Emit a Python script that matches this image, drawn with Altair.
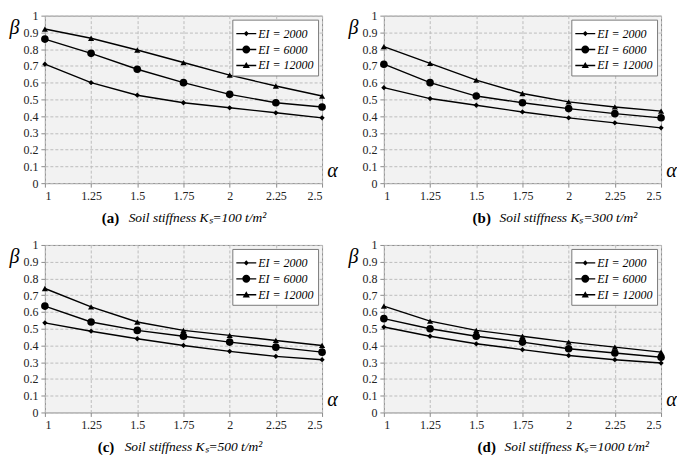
import altair as alt
import pandas as pd

# ---------------- data ----------------
alpha = [1, 1.25, 1.5, 1.75, 2, 2.25, 2.5]
series = ["EI = 2000", "EI = 6000", "EI = 12000"]
y_ticks = [0, 0.1, 0.2, 0.3, 0.4, 0.5, 0.6, 0.7, 0.8, 0.9, 1]

# (a) Ks = 100
a_2000 = [0.71, 0.60, 0.525, 0.48, 0.45, 0.42, 0.39]
a_6000 = [0.86, 0.775, 0.68, 0.60, 0.53, 0.48, 0.455]
a_12000 = [0.92, 0.865, 0.795, 0.72, 0.645, 0.58, 0.52]
# (b) Ks = 300
b_2000 = [0.57, 0.505, 0.465, 0.425, 0.39, 0.36, 0.33]
b_6000 = [0.71, 0.60, 0.52, 0.48, 0.445, 0.415, 0.39]
b_12000 = [0.815, 0.715, 0.615, 0.535, 0.485, 0.455, 0.43]
# (c) Ks = 500
c_2000 = [0.535, 0.485, 0.44, 0.40, 0.365, 0.335, 0.315]
c_6000 = [0.635, 0.54, 0.49, 0.455, 0.42, 0.39, 0.36]
c_12000 = [0.74, 0.63, 0.54, 0.49, 0.46, 0.43, 0.40]
# (d) Ks = 1000
d_2000 = [0.51, 0.455, 0.41, 0.375, 0.34, 0.315, 0.295]
d_6000 = [0.56, 0.50, 0.455, 0.42, 0.38, 0.355, 0.33]
d_12000 = [0.635, 0.545, 0.49, 0.455, 0.42, 0.39, 0.36]

panel_letters = ["(a)", "(b)", "(c)", "(d)"]
panel_ks = ["100", "300", "500", "1000"]
panel_values = [
    [a_2000, a_6000, a_12000],
    [b_2000, b_6000, b_12000],
    [c_2000, c_6000, c_12000],
    [d_2000, d_6000, d_12000],
]

# ---------------- style ----------------
W = 278
H = 168
SERIF = "Liberation Serif, Times New Roman, Times, serif"
caption_offsets = [57, 89, 53, 94]
point_shapes = ["diamond", "circle", "triangle-up"]
point_sizes = [28, 58, 38]
# legend glyphs: a thin filled bar (the line) plus the marker, all clockwise
BAR = "M-1,-0.07H1V0.07H-1Z"
legend_paths = [
    BAR + "M0,-0.26L0.26,0L0,0.26L-0.26,0Z",
    BAR + "M-0.4,0A0.4,0.4,0,1,1,0.4,0A0.4,0.4,0,1,1,-0.4,0Z",
    BAR + "M0,-0.36L0.36,0.26L-0.36,0.26Z",
]


def make_panel(i):
    rows = []
    for s, vals in zip(series, panel_values[i]):
        for a, v in zip(alpha, vals):
            rows.append({"alpha": a, "beta": v, "series": s})
    df = pd.DataFrame(rows)
    base = alt.Chart(df)

    x = alt.X(
        "alpha:Q",
        scale=alt.Scale(domain=[1, 2.5], nice=False, zero=False),
        axis=alt.Axis(
            values=alpha, format=".3~g", title="α",
            titleAngle=0, titleX=W + 10, titleY=-3,
            titleAlign="center", titleBaseline="bottom",
            titleFont=SERIF, titleFontStyle="italic", titleFontWeight="normal",
            titleFontSize=20,
        ),
    )
    y = alt.Y(
        "beta:Q",
        scale=alt.Scale(domain=[0, 1], nice=False),
        axis=alt.Axis(
            values=y_ticks, format=".1~f", title="β",
            titleAngle=0, titleX=-31, titleY=12,
            titleAlign="center", titleBaseline="middle",
            titleFont=SERIF, titleFontStyle="italic", titleFontWeight="normal",
            titleFontSize=20,
        ),
    )

    lines = base.mark_line(color="black", strokeWidth=1.4).encode(
        x=x, y=y, detail="series:N"
    )
    pts = []
    for s, shp, sz in zip(series, point_shapes, point_sizes):
        pts.append(
            base.transform_filter(alt.datum.series == s)
            .mark_point(shape=shp, size=sz, filled=True, color="black", opacity=1)
            .encode(x=x, y=y)
        )
    leg = base.mark_point(filled=True, color="black", opacity=0).encode(
        x=x,
        y=y,
        shape=alt.Shape(
            "series:N",
            scale=alt.Scale(domain=series, range=legend_paths),
            legend=alt.Legend(
                title=None, orient="top-right", offset=4,
                fillColor="white", strokeColor="#7a7a7a", padding=4,
                symbolSize=400, symbolStrokeWidth=0,
                symbolFillColor="black",
                symbolOpacity=1, rowPadding=0, labelOffset=2,
                labelFont=SERIF, labelFontStyle="italic", labelFontSize=12,
                labelColor="black", cornerRadius=0,
            ),
        ),
    )

    one = alt.Data(values=[{"k": 0}])
    cx = caption_offsets[i]
    cap1 = alt.Chart(one).mark_text(
        text=panel_letters[i], font=SERIF, fontWeight="bold", fontSize=15,
        align="left", baseline="middle", color="black",
    ).encode(x=alt.value(cx), y=alt.value(H + 35))
    cap2 = alt.Chart(one).mark_text(
        text=f"Soil stiffness Kₛ={panel_ks[i]} t/m²", font=SERIF,
        fontStyle="italic", fontSize=13.5, align="left", baseline="middle",
        color="black",
    ).encode(x=alt.value(cx + 27), y=alt.value(H + 35))

    return alt.layer(lines, *pts, leg, cap1, cap2).properties(width=W, height=H)


panels = [make_panel(i) for i in range(4)]

chart = (
    alt.concat(*panels, columns=2, spacing={"row": 62, "column": 62}, bounds="flush")
    .resolve_scale(shape="independent")
    .resolve_legend(shape="independent")
    .properties(padding={"left": 0, "top": 0, "right": 0, "bottom": 0})
    .configure_view(fill="#f2f2f2", stroke="#8c8c8c", strokeWidth=1)
    .configure_axis(
        labelFont=SERIF, labelFontSize=12, labelColor="#222222",
        grid=True, gridColor="#bdbdbd", gridDash=[3, 2], gridWidth=1,
        domain=False, ticks=True, tickColor="#8c8c8c", tickSize=4,
        labelPadding=3,
    )
)

chart.save("out.html", embed_options={"renderer": "svg", "actions": False})
